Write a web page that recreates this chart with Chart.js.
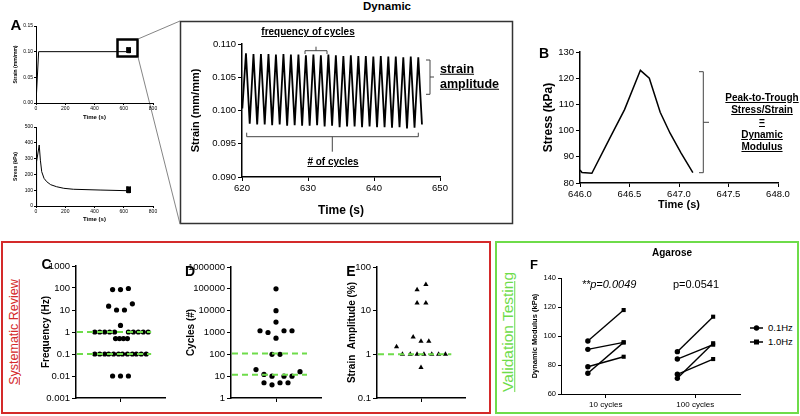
<!DOCTYPE html>
<html>
<head>
<meta charset="utf-8">
<script src="https://cdn.jsdelivr.net/npm/chart.js@4"></script>
<style>
body { margin: 0; width: 800px; height: 416px; position: relative; background: #fff; overflow: hidden;
       font-family: 'Liberation Sans', Arial, sans-serif; }
canvas { position: absolute; }
.t { position: absolute; white-space: nowrap; line-height: 1; color: #000; transform: translate(-50%, -50%); }
.l { transform: translate(0, -50%); }
.b { font-weight: bold; }
.u { text-decoration: underline; }
.rot { transform: translate(-50%, -50%) rotate(-90deg); }
</style>
</head>
<body>
<svg width="800" height="416" style="position:absolute;left:0;top:0">
  <!-- zoom box + connectors -->
  <rect x="180.5" y="21.5" width="332" height="202" fill="none" stroke="#333" stroke-width="1.5"/>
  <rect x="117.5" y="39.5" width="20" height="17" fill="none" stroke="#000" stroke-width="2.5"/>
  <line x1="138" y1="39" x2="180" y2="21" stroke="#666" stroke-width="0.8"/>
  <line x1="138" y1="57" x2="180" y2="224" stroke="#666" stroke-width="0.8"/>
  <!-- brackets -->
  <path d="M305,54 L305,50.7 L327,50.7 L327,54 M316,50.7 L316,46.7" fill="none" stroke="#444" stroke-width="1"/>
  <path d="M246.7,132.7 L246.7,136.7 L418.3,136.7 L418.3,132.7 M332.3,136.7 L332.3,151.7" fill="none" stroke="#444" stroke-width="1"/>
  <path d="M426,60 L430,60 L430,94.3 L426,94.3 M430,77 L434,77" fill="none" stroke="#444" stroke-width="1"/>
  <path d="M699,71.7 L703.3,71.7 L703.3,172.7 L699,172.7 M703.3,122.3 L709,122.3" fill="none" stroke="#444" stroke-width="1"/>
  <!-- section frames -->
  <rect x="2" y="242" width="488" height="171" fill="none" stroke="#d42a2a" stroke-width="2"/>
  <rect x="496" y="242" width="302" height="171" fill="none" stroke="#6edc4a" stroke-width="2"/>
  <!-- F legend markers -->
  <line x1="750" y1="328" x2="763" y2="328" stroke="#000" stroke-width="1.5"/>
  <circle cx="756.5" cy="328" r="2.7" fill="#000"/>
  <line x1="750" y1="342" x2="763" y2="342" stroke="#000" stroke-width="1.5"/>
  <rect x="754" y="339.5" width="5" height="5" fill="#000"/>
</svg>

<canvas id="a1"></canvas>
<canvas id="a2"></canvas>
<canvas id="az"></canvas>
<canvas id="b"></canvas>
<canvas id="c"></canvas>
<canvas id="d"></canvas>
<canvas id="e"></canvas>
<canvas id="f"></canvas>

<div class="t b" style="left:387px;top:7px;font-size:11.5px">Dynamic</div>
<div class="t b" style="left:16px;top:24px;font-size:15px">A</div>
<div class="t b u" style="left:308px;top:32px;font-size:10px">frequency of cycles</div>
<div class="t b u" style="left:333px;top:162px;font-size:10px"># of cycles</div>
<div class="t l b u" style="left:440px;top:69px;font-size:12.5px">strain</div>
<div class="t l b u" style="left:440px;top:84px;font-size:12.5px">amplitude</div>
<div class="t b" style="left:544px;top:53px;font-size:14px">B</div>
<div class="t b u" style="left:762px;top:97.7px;font-size:10px">Peak-to-Trough</div>
<div class="t b u" style="left:762px;top:110px;font-size:10px">Stress/Strain</div>
<div class="t b u" style="left:762px;top:122.3px;font-size:10px">=</div>
<div class="t b u" style="left:762px;top:135px;font-size:10px">Dynamic</div>
<div class="t b u" style="left:762px;top:147px;font-size:10px">Modulus</div>

<div class="t rot u" style="left:14px;top:332px;font-size:12.5px;color:#d42a2a">Systematic Review</div>
<div class="t rot u" style="left:508px;top:332px;font-size:15.5px;color:#6edc4a">Validation Testing</div>
<div class="t b" style="left:46.5px;top:264px;font-size:14px">C</div>
<div class="t b" style="left:190px;top:271px;font-size:14px">D</div>
<div class="t b" style="left:351px;top:271px;font-size:14px">E</div>
<div class="t b" style="left:534px;top:263.5px;font-size:13px">F</div>
<div class="t b" style="left:672px;top:253px;font-size:10px">Agarose</div>
<div class="t" style="left:609px;top:284px;font-size:11px;font-style:italic">**p=0.0049</div>
<div class="t" style="left:696px;top:284px;font-size:11px">p=0.0541</div>
<div class="t l" style="left:768px;top:328px;font-size:9.5px">0.1Hz</div>
<div class="t l" style="left:768px;top:342px;font-size:9.5px">1.0Hz</div>

<script>
// DATA
// panel A: ramp + relaxation, then the cyclic block (same cycles as the zoomed plot)
const rampTime = [0, 18, 620];
const rampStrain = [0, 0.1, 0.1];
const relaxTime = [0, 4, 22, 30, 39, 55, 73, 100, 141, 190, 255, 438, 620];
const relaxStress = [0, 280, 386, 290, 217, 175, 154, 135, 122, 112, 106, 101, 97];

const cycleTime = [620.05,
  620.60, 621.17, 621.74, 622.30, 622.87, 623.44, 624.01, 624.57, 625.14, 625.71, 626.28, 626.84,
  627.41, 627.98, 628.55, 629.11, 629.68, 630.25, 630.82, 631.38, 631.95, 632.52, 633.09, 633.65,
  634.22, 634.79, 635.36, 635.92, 636.49, 637.06, 637.63, 638.19, 638.76, 639.33, 639.90, 640.46,
  641.03, 641.60, 642.17, 642.73, 643.30, 643.87, 644.44, 645.00, 645.57, 646.14, 646.71, 647.27];
const cycleStrain = [0.1003,
  0.1086, 0.0980, 0.1085, 0.0979, 0.1085, 0.0979, 0.1085, 0.0978, 0.1084, 0.0979, 0.1085, 0.0977,
  0.1084, 0.0978, 0.1084, 0.0977, 0.1083, 0.0977, 0.1084, 0.0978, 0.1083, 0.0976, 0.1084, 0.0977,
  0.1083, 0.0975, 0.1082, 0.0976, 0.1083, 0.0976, 0.1082, 0.0975, 0.1082, 0.0976, 0.1081, 0.0975,
  0.1082, 0.0975, 0.1081, 0.0974, 0.1081, 0.0975, 0.1080, 0.0973, 0.1081, 0.0974, 0.1080, 0.0979];
const cycleStress = [97,
  123, 84, 124, 84, 123, 83, 123, 84, 122, 84, 123, 83,
  122, 84, 123, 83, 122, 83, 122, 84, 123, 83, 122, 83,
  122, 84, 121, 83, 122, 83, 122, 84, 121, 83, 122, 83,
  121, 83, 122, 84, 121, 83, 122, 83, 121, 84, 123, 84];

// panel B: one cycle
const peakTime = [646.0, 646.02, 646.12, 646.3, 646.45, 646.61, 646.70, 646.81, 646.91, 647.02, 647.14];
const peakStress = [85, 84, 83.7, 97, 108, 123, 120, 107, 99, 91.5, 84];

// panel C: frequency (Hz), jitter = horizontal spread of the dot plot
const freqHz = [85, 85, 95, 15, 10, 10, 19, 2,
  1, 1, 1, 1, 1, 1, 1, 1, 1, 1,
  0.5, 0.5, 0.5, 0.5,
  0.1, 0.1, 0.1, 0.1, 0.1, 0.1, 0.1, 0.1, 0.1, 0.1, 0.1, 0.1,
  0.01, 0.01, 0.01];
const freqJitter = [-8, 0, 8, -12, -4, 4, 12, 0,
  -26, -21, -16, -11, -6, 8, 13, 18, 23, 28,
  -5, -1, 3, 7,
  -26, -21, -16, -12, -7, -2, 2, 7, 12, 16, 21, 26,
  -8, 0, 8];
const freqLines = [1, 0.1];

// panel D: number of cycles
const cycleCount = [100000, 10000, 3000, 1200, 1000, 1200, 1200, 550, 100, 100,
  20, 16, 12, 10, 10, 10, 5, 4, 5, 5];
const cycleJitter = [0, 0, 0, -16, -8, 8, 16, 0, -4, 4,
  -20, 24, -12, -4, 8, 16, -12, -4, 4, 12];
const cycleLines = [110, 11.5];

// panel E: strain amplitude (%)
const ampPct = [30, 40, 15, 15, 2.5, 2, 2, 1.5, 1, 1, 1, 1, 1, 1, 1, 0.5];
const ampJitter = [-4, 5, -4, 5, -8, 0, 8, -25, -19, -11, -4, 3, 11, 18, 25, 0];
const ampLines = [1];

// panel F: dynamic modulus (kPa), paired samples
const fCats = ['10 cycles', '100 cycles'];
const mod10Low = [96.6, 90.8, 78.8, 74.3];
const mod10High = [117.9, 95.6, 85.7, 95.6];
const mod100Low = [89.2, 84.1, 73.6, 70.8];
const mod100High = [113.3, 94, 84.1, 95];

// tick labels
const smallTimeTicks = [0, 200, 400, 600, 800];
const smallStrainTicks = [0, 0.05, 0.10, 0.15];
const smallStressTicks = [0, 100, 200, 300, 400, 500];
const zoomTimeTicks = [620, 630, 640, 650];
const zoomStrainTicks = [0.090, 0.095, 0.100, 0.105, 0.110];
const bTimeTicks = [646.0, 646.5, 647.0, 647.5, 648.0];
const bStressTicks = [80, 90, 100, 110, 120, 130];
const freqTicks = [0.001, 0.01, 0.1, 1, 10, 100, 1000];
const cycleTicks = [1, 10, 100, 1000, 10000, 100000, 1000000];
const ampTicks = [0.1, 1, 10, 100];
const modTicks = [60, 80, 100, 120, 140];

// HELPERS
Chart.defaults.font.family = "'Liberation Sans', Arial, sans-serif";
Chart.defaults.color = '#000';
const ink = '#000';
const green = '#6edc4a';

const xy = (xs, ys) => xs.map((x, i) => ({x: x, y: ys[i]}));

function place(id, l, t, w, h) {
  const c = document.getElementById(id);
  c.width = w; c.height = h;
  c.style.left = l + 'px'; c.style.top = t + 'px';
  return c;
}

function axis(o) {
  return {
    type: o.type || 'linear',
    position: o.pos,
    min: o.min, max: o.max,
    afterFit: s => { if (o.pos === 'left') s.width = o.size; else s.height = o.size; },
    afterBuildTicks: s => { s.ticks = o.ticks.map(v => ({value: v})); },
    grid: {drawOnChartArea: false, drawTicks: true, tickLength: o.tl, color: ink, lineWidth: 1},
    border: {display: true, color: ink, width: o.bw},
    ticks: {color: ink, font: {size: o.fs}, padding: o.pad === undefined ? 2 : o.pad,
            maxRotation: 0, autoSkip: false, callback: o.fmt},
    title: {display: !!o.title, text: o.title, color: ink, padding: {top: 4, bottom: 4},
            font: {size: o.tfs, weight: 'bold'}}
  };
}

function opts(pad, x, y) {
  return {
    responsive: false, animation: false, events: [],
    layout: {padding: pad},
    plugins: {legend: {display: false}, tooltip: {enabled: false}},
    scales: {x: x, y: y}
  };
}

function lineSet(data, w) {
  return {data: data, showLine: true, borderColor: ink, borderWidth: w, pointRadius: 0, tension: 0};
}

function dashSet(levels) {
  return levels.map(v => ({
    data: [{x: -44, y: v}, {x: 31, y: v}], showLine: true, pointRadius: 0,
    borderColor: green, borderWidth: 2, borderDash: [6, 4], order: 0
  }));
}

function dotSet(jit, vals, style, r) {
  return {data: xy(jit, vals), pointStyle: style, pointRadius: r, backgroundColor: ink,
          borderColor: ink, borderWidth: 0, order: 1};
}

// PANEL A (overview)
new Chart(place('a1', 9, 18, 154, 107), {
  type: 'scatter',
  data: {datasets: [lineSet(xy(rampTime.concat(cycleTime), rampStrain.concat(cycleStrain)), 1)]},
  options: opts({top: 8, right: 10},
    axis({pos: 'bottom', min: 0, max: 800, ticks: smallTimeTicks, size: 22, tl: 2, bw: 1, fs: 5, pad: 1,
          fmt: v => String(v), title: 'Time (s)', tfs: 6}),
    axis({pos: 'left', min: 0, max: 0.15, ticks: smallStrainTicks, size: 27, tl: 2, bw: 1, fs: 5, pad: 1,
          fmt: v => v.toFixed(2), title: 'Strain (mm/mm)', tfs: 5}))
});

new Chart(place('a2', 9, 119, 154, 108), {
  type: 'scatter',
  data: {datasets: [lineSet(xy(relaxTime.concat(cycleTime), relaxStress.concat(cycleStress)), 1)]},
  options: opts({top: 8, right: 10},
    axis({pos: 'bottom', min: 0, max: 800, ticks: smallTimeTicks, size: 21, tl: 2, bw: 1, fs: 5, pad: 1,
          fmt: v => String(v), title: 'Time (s)', tfs: 6}),
    axis({pos: 'left', min: 0, max: 500, ticks: smallStressTicks, size: 27, tl: 2, bw: 1, fs: 5, pad: 1,
          fmt: v => String(v), title: 'Stress (kPa)', tfs: 5}))
});

// PANEL A (zoomed cycles)
new Chart(place('az', 185, 34, 267, 188), {
  type: 'scatter',
  data: {datasets: [lineSet(xy(cycleTime, cycleStrain), 1.8)]},
  options: opts({top: 10, right: 12},
    axis({pos: 'bottom', min: 620, max: 650, ticks: zoomTimeTicks, size: 45, tl: 4, bw: 1.5, fs: 9.5,
          fmt: v => String(v), title: 'Time (s)', tfs: 12}),
    axis({pos: 'left', min: 0.09, max: 0.11, ticks: zoomStrainTicks, size: 57, tl: 4, bw: 1.5, fs: 9.5,
          fmt: v => v.toFixed(3), title: 'Strain (mm/mm)', tfs: 11}))
});

// PANEL B
new Chart(place('b', 537, 42, 255, 174), {
  type: 'scatter',
  data: {datasets: [lineSet(xy(peakTime, peakStress), 1.5)]},
  options: opts({top: 10, right: 14},
    axis({pos: 'bottom', min: 646, max: 648, ticks: bTimeTicks, size: 33, tl: 4, bw: 1.5, fs: 9.5,
          fmt: v => v.toFixed(1), title: 'Time (s)', tfs: 11}),
    axis({pos: 'left', min: 80, max: 130, ticks: bStressTicks, size: 43, tl: 4, bw: 1.5, fs: 9.5,
          fmt: v => String(v), title: 'Stress (kPa)', tfs: 12}))
});

// PANELS C, D, E (dot plots on log axes)
function dotChart(id, box, jit, vals, lines, style, r, yTicks, yMin, yMax, title, wy) {
  new Chart(place(id, box[0], box[1], box[2], box[3]), {
    type: 'scatter',
    data: {datasets: dashSet(lines).concat([dotSet(jit, vals, style, r)])},
    options: opts({top: 10, right: 10},
      axis({pos: 'bottom', min: -45, max: 45, ticks: [0], size: 14, tl: 4, bw: 1.5, fs: 9, fmt: () => ''}),
      axis({pos: 'left', type: 'logarithmic', min: yMin, max: yMax, ticks: yTicks, size: wy, tl: 4, bw: 1.5,
            fs: 9.5, fmt: v => String(v), title: title, tfs: 10}))
  });
}

dotChart('c', [36, 256, 139, 156], freqJitter, freqHz, freqLines, 'circle', 2.6,
  freqTicks, 0.001, 1000, 'Frequency (Hz)', 40);
dotChart('d', [181, 257, 150, 155], cycleJitter, cycleCount, cycleLines, 'circle', 2.6,
  cycleTicks, 1, 1000000, 'Cycles (#)', 50);
dotChart('e', [342, 257, 133, 155], ampJitter, ampPct, ampLines, 'triangle', 3,
  ampTicks, 0.1, 100, 'Strain  Amplitude (%)', 35);

// PANEL F (paired lines, category positions 1 and 3 on a linear axis)
const fSets = [];
[[mod10Low, mod10High], [mod100Low, mod100High]].forEach((pair, ci) => {
  const cx = ci * 2 + 1;
  pair[0].forEach((lo, i) => {
    fSets.push({
      data: [{x: cx - 0.4, y: lo}, {x: cx + 0.4, y: pair[1][i]}],
      showLine: true, borderColor: ink, borderWidth: 1.4,
      pointStyle: ['circle', 'rect'], pointRadius: [2.7, 2.9],
      backgroundColor: ink, pointBorderWidth: 0
    });
  });
});

new Chart(place('f', 526, 270, 224, 142), {
  type: 'scatter',
  data: {datasets: fSets},
  options: opts({top: 8, right: 10},
    axis({pos: 'bottom', min: 0, max: 4, ticks: [1, 3], size: 18, tl: 4, bw: 1, fs: 8,
          fmt: v => fCats[(v - 1) / 2]}),
    axis({pos: 'left', min: 60, max: 140, ticks: modTicks, size: 35, tl: 3, bw: 1, fs: 7.5,
          fmt: v => String(v), title: 'Dynamic Modulus (kPa)', tfs: 7.5}))
});
</script>
</body>
</html>
